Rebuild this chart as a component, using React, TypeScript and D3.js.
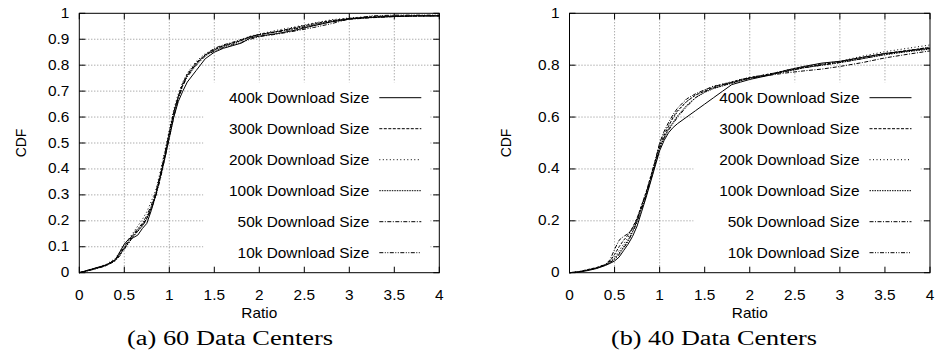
import * as d3 from "d3";

// shared sample positions (Ratio) for every CDF curve
const X_GRID = [0, 0.1, 0.2, 0.3, 0.4, 0.45, 0.5, 0.55, 0.6, 0.65, 0.7, 0.75, 0.8, 0.85, 0.9, 0.95, 1.0, 1.05, 1.1, 1.15, 1.2, 1.3, 1.4, 1.5, 1.6, 1.7, 1.8, 1.9, 2.0, 2.2, 2.4, 2.6, 2.8, 3.0, 3.25, 3.5, 3.75, 4.0];

const SERIES = ["400k Download Size", "300k Download Size", "200k Download Size", "100k Download Size", "50k Download Size", "10k Download Size"];

// (a) 60 data centers
const A_400 = [0, 0.01, 0.02, 0.03, 0.05, 0.08, 0.11, 0.13, 0.135, 0.145, 0.17, 0.19, 0.24, 0.3, 0.37, 0.44, 0.52, 0.6, 0.66, 0.7, 0.735, 0.78, 0.825, 0.85, 0.865, 0.875, 0.885, 0.905, 0.912, 0.922, 0.935, 0.952, 0.967, 0.978, 0.984, 0.988, 0.99, 0.99];
const A_300 = [0, 0.008, 0.018, 0.03, 0.048, 0.07, 0.095, 0.12, 0.145, 0.165, 0.185, 0.21, 0.25, 0.3, 0.37, 0.45, 0.54, 0.62, 0.68, 0.73, 0.765, 0.81, 0.84, 0.86, 0.875, 0.885, 0.895, 0.91, 0.918, 0.93, 0.945, 0.96, 0.972, 0.98, 0.986, 0.99, 0.99, 0.991];
const A_200 = [0, 0.01, 0.02, 0.032, 0.055, 0.08, 0.11, 0.13, 0.155, 0.18, 0.205, 0.235, 0.275, 0.32, 0.39, 0.47, 0.55, 0.63, 0.69, 0.735, 0.77, 0.815, 0.845, 0.862, 0.875, 0.885, 0.9, 0.912, 0.92, 0.935, 0.948, 0.962, 0.975, 0.982, 0.988, 0.99, 0.99, 0.99];
const A_100 = [0, 0.008, 0.018, 0.028, 0.048, 0.07, 0.095, 0.115, 0.14, 0.16, 0.18, 0.21, 0.25, 0.3, 0.37, 0.45, 0.53, 0.61, 0.675, 0.725, 0.76, 0.805, 0.838, 0.858, 0.872, 0.882, 0.895, 0.908, 0.918, 0.93, 0.942, 0.957, 0.97, 0.98, 0.985, 0.988, 0.99, 0.99];
const A_50 = [0, 0.01, 0.02, 0.03, 0.05, 0.075, 0.1, 0.125, 0.15, 0.17, 0.19, 0.22, 0.26, 0.31, 0.38, 0.46, 0.54, 0.62, 0.68, 0.725, 0.76, 0.805, 0.84, 0.865, 0.878, 0.888, 0.898, 0.91, 0.918, 0.928, 0.94, 0.953, 0.968, 0.977, 0.983, 0.987, 0.99, 0.99];
const A_10 = [0, 0.008, 0.016, 0.027, 0.045, 0.065, 0.09, 0.115, 0.14, 0.16, 0.18, 0.205, 0.245, 0.295, 0.36, 0.44, 0.52, 0.6, 0.67, 0.72, 0.755, 0.8, 0.835, 0.855, 0.868, 0.878, 0.888, 0.9, 0.91, 0.92, 0.932, 0.945, 0.96, 0.978, 0.99, 0.993, 0.993, 0.993];

// (b) 40 data centers
const B_400 = [0, 0.002, 0.008, 0.016, 0.028, 0.036, 0.045, 0.06, 0.085, 0.11, 0.14, 0.18, 0.235, 0.29, 0.35, 0.41, 0.47, 0.51, 0.54, 0.56, 0.575, 0.6, 0.625, 0.65, 0.675, 0.7, 0.725, 0.735, 0.745, 0.76, 0.78, 0.795, 0.808, 0.815, 0.83, 0.845, 0.855, 0.865];
const B_300 = [0, 0.004, 0.012, 0.02, 0.032, 0.045, 0.07, 0.1, 0.125, 0.145, 0.175, 0.21, 0.26, 0.31, 0.37, 0.43, 0.49, 0.53, 0.565, 0.6, 0.625, 0.66, 0.685, 0.7, 0.715, 0.725, 0.735, 0.745, 0.752, 0.765, 0.778, 0.792, 0.803, 0.812, 0.83, 0.845, 0.857, 0.868];
const B_200 = [0, 0.003, 0.01, 0.018, 0.03, 0.042, 0.06, 0.085, 0.11, 0.135, 0.17, 0.21, 0.26, 0.31, 0.37, 0.43, 0.5, 0.54, 0.57, 0.595, 0.62, 0.66, 0.685, 0.705, 0.72, 0.728, 0.736, 0.745, 0.753, 0.765, 0.78, 0.795, 0.805, 0.815, 0.835, 0.852, 0.865, 0.878];
const B_100 = [0, 0.003, 0.01, 0.018, 0.03, 0.04, 0.055, 0.075, 0.1, 0.125, 0.16, 0.2, 0.25, 0.3, 0.36, 0.42, 0.48, 0.52, 0.555, 0.58, 0.605, 0.645, 0.675, 0.695, 0.71, 0.72, 0.73, 0.74, 0.75, 0.762, 0.775, 0.79, 0.8, 0.81, 0.825, 0.84, 0.852, 0.862];
const B_50 = [0, 0.003, 0.01, 0.018, 0.032, 0.05, 0.09, 0.125, 0.14, 0.15, 0.17, 0.205, 0.255, 0.305, 0.365, 0.43, 0.5, 0.545, 0.58, 0.61, 0.635, 0.67, 0.69, 0.705, 0.718, 0.726, 0.733, 0.742, 0.75, 0.76, 0.77, 0.778, 0.785, 0.795, 0.81, 0.828, 0.842, 0.855];
const B_10 = [0, 0.003, 0.01, 0.018, 0.03, 0.04, 0.05, 0.07, 0.095, 0.12, 0.155, 0.195, 0.245, 0.295, 0.355, 0.415, 0.48, 0.52, 0.55, 0.575, 0.6, 0.64, 0.675, 0.698, 0.712, 0.722, 0.732, 0.742, 0.75, 0.762, 0.776, 0.79, 0.8, 0.81, 0.825, 0.842, 0.855, 0.87];

const X_TICKS = [0, 0.5, 1, 1.5, 2, 2.5, 3, 3.5, 4];
const Y_TICKS_A = [0, 0.1, 0.2, 0.3, 0.4, 0.5, 0.6, 0.7, 0.8, 0.9, 1];
const Y_TICKS_B = [0, 0.2, 0.4, 0.6, 0.8, 1];

const DASHES = [undefined, "3,1.5", "1,2.5", "1.5,1", "4,1.5,1,1.5", "4,1.5,1,1.5,1,1.5"];

const SANS = "'Liberation Sans', Arial, Helvetica, sans-serif";
const SERIF = "'Liberation Serif', 'Times New Roman', serif";
const SX = 1.1; // the source picture is stretched a little horizontally

function Label({ x, y, anchor = "start", children, size = 14 }: any) {
  return (
    <text transform={`translate(${x},${y}) scale(${SX},1)`} textAnchor={anchor}
      fontFamily={SANS} fontSize={size} fill="#000">{children}</text>
  );
}

function Panel({ left, top, width, height, yTicks, series, cdfX, caption, captionX }: any) {
  const x = d3.scaleLinear().domain([0, 4]).range([left, left + width]);
  const y = d3.scaleLinear().domain([0, 1]).range([top + height, top]);
  const line = d3.line<number>().x((_, i) => x(X_GRID[i])).y(d => y(d));

  // key box (blanks the grid behind it)
  const box = { x0: left + 124, x1: left + 351, y0: top + 69, y1: top + height };
  const keyTextX = left + 290;
  const keyLine = [left + 300, left + 342];
  const keyY0 = top + 84.4;
  const keyStep = 31;
  const tick = 6;
  const fmt = (v: number) => (v === 0 || v === 1 ? String(v) : String(+v.toFixed(1)));

  return (
    <g>
      {/* grid */}
      <g stroke="#8a8a8a" strokeWidth={1} strokeDasharray="1,2">
        {X_TICKS.filter(t => t > 0 && t < 4).map(t => (
          <line key={"gx" + t} x1={x(t)} x2={x(t)} y1={top} y2={top + height} />
        ))}
        {yTicks.filter((t: number) => t > 0 && t < 1).map((t: number) => (
          <line key={"gy" + t} x1={left} x2={left + width} y1={y(t)} y2={y(t)} />
        ))}
      </g>
      <rect x={box.x0} y={box.y0} width={box.x1 - box.x0} height={box.y1 - box.y0} fill="#fff" />

      {/* curves */}
      <g fill="none" stroke="#000" strokeWidth={1}>
        {series.map((s: number[], i: number) => (
          <path key={i} d={line(s) || ""} strokeDasharray={DASHES[i]} />
        ))}
      </g>

      {/* key */}
      {SERIES.map((name, i) => {
        const cy = keyY0 + i * keyStep;
        return (
          <g key={name}>
            <Label x={keyTextX} y={cy + 5} anchor="end">{name}</Label>
            <line x1={keyLine[0]} x2={keyLine[1]} y1={cy} y2={cy} stroke="#000" strokeWidth={1} strokeDasharray={DASHES[i]} />
          </g>
        );
      })}

      {/* border and inward ticks */}
      <rect x={left} y={top} width={width} height={height} fill="none" stroke="#000" strokeWidth={1} />
      <g stroke="#000" strokeWidth={1}>
        {X_TICKS.map(t => (
          <g key={"tx" + t}>
            <line x1={x(t)} x2={x(t)} y1={top + height} y2={top + height - tick} />
            <line x1={x(t)} x2={x(t)} y1={top} y2={top + tick} />
          </g>
        ))}
        {yTicks.map((t: number) => (
          <g key={"ty" + t}>
            <line x1={left} x2={left + tick} y1={y(t)} y2={y(t)} />
            <line x1={left + width} x2={left + width - tick} y1={y(t)} y2={y(t)} />
          </g>
        ))}
      </g>

      {/* tick labels */}
      {X_TICKS.map(t => (
        <Label key={"lx" + t} x={x(t)} y={top + height + 27.5} anchor="middle">{String(t)}</Label>
      ))}
      {yTicks.map((t: number) => (
        <Label key={"ly" + t} x={left - 10} y={y(t) + 4.5} anchor="end">{fmt(t)}</Label>
      ))}

      {/* axis titles */}
      <Label x={left + width / 2} y={top + height + 45.5} anchor="middle">Ratio</Label>
      <text transform={`translate(${cdfX},${top + height / 2}) rotate(-90) scale(1,${SX})`} textAnchor="middle"
        dy="0.35em" fontFamily={SANS} fontSize={14}>CDF</text>

      {/* caption */}
      <text x={captionX} y={345} fontFamily={SERIF} fontSize={20} textLength={206}
        lengthAdjust="spacingAndGlyphs">{caption}</text>
    </g>
  );
}

export default function App() {
  return (
    <svg width={935} height={354} style={{ position: "absolute", left: 0, top: 0, background: "#fff" }}>
      <rect width={935} height={354} fill="#fff" />
      <Panel left={79.3} top={13.3} width={360} height={259.4} yTicks={Y_TICKS_A}
        series={[A_400, A_300, A_200, A_100, A_50, A_10]} cdfX={20.5}
        caption="(a) 60 Data Centers" captionX={127} />
      <Panel left={569.5} top={13.3} width={360.5} height={259.4} yTicks={Y_TICKS_B}
        series={[B_400, B_300, B_200, B_100, B_50, B_10]} cdfX={505.8}
        caption="(b) 40 Data Centers" captionX={611} />
    </svg>
  );
}
